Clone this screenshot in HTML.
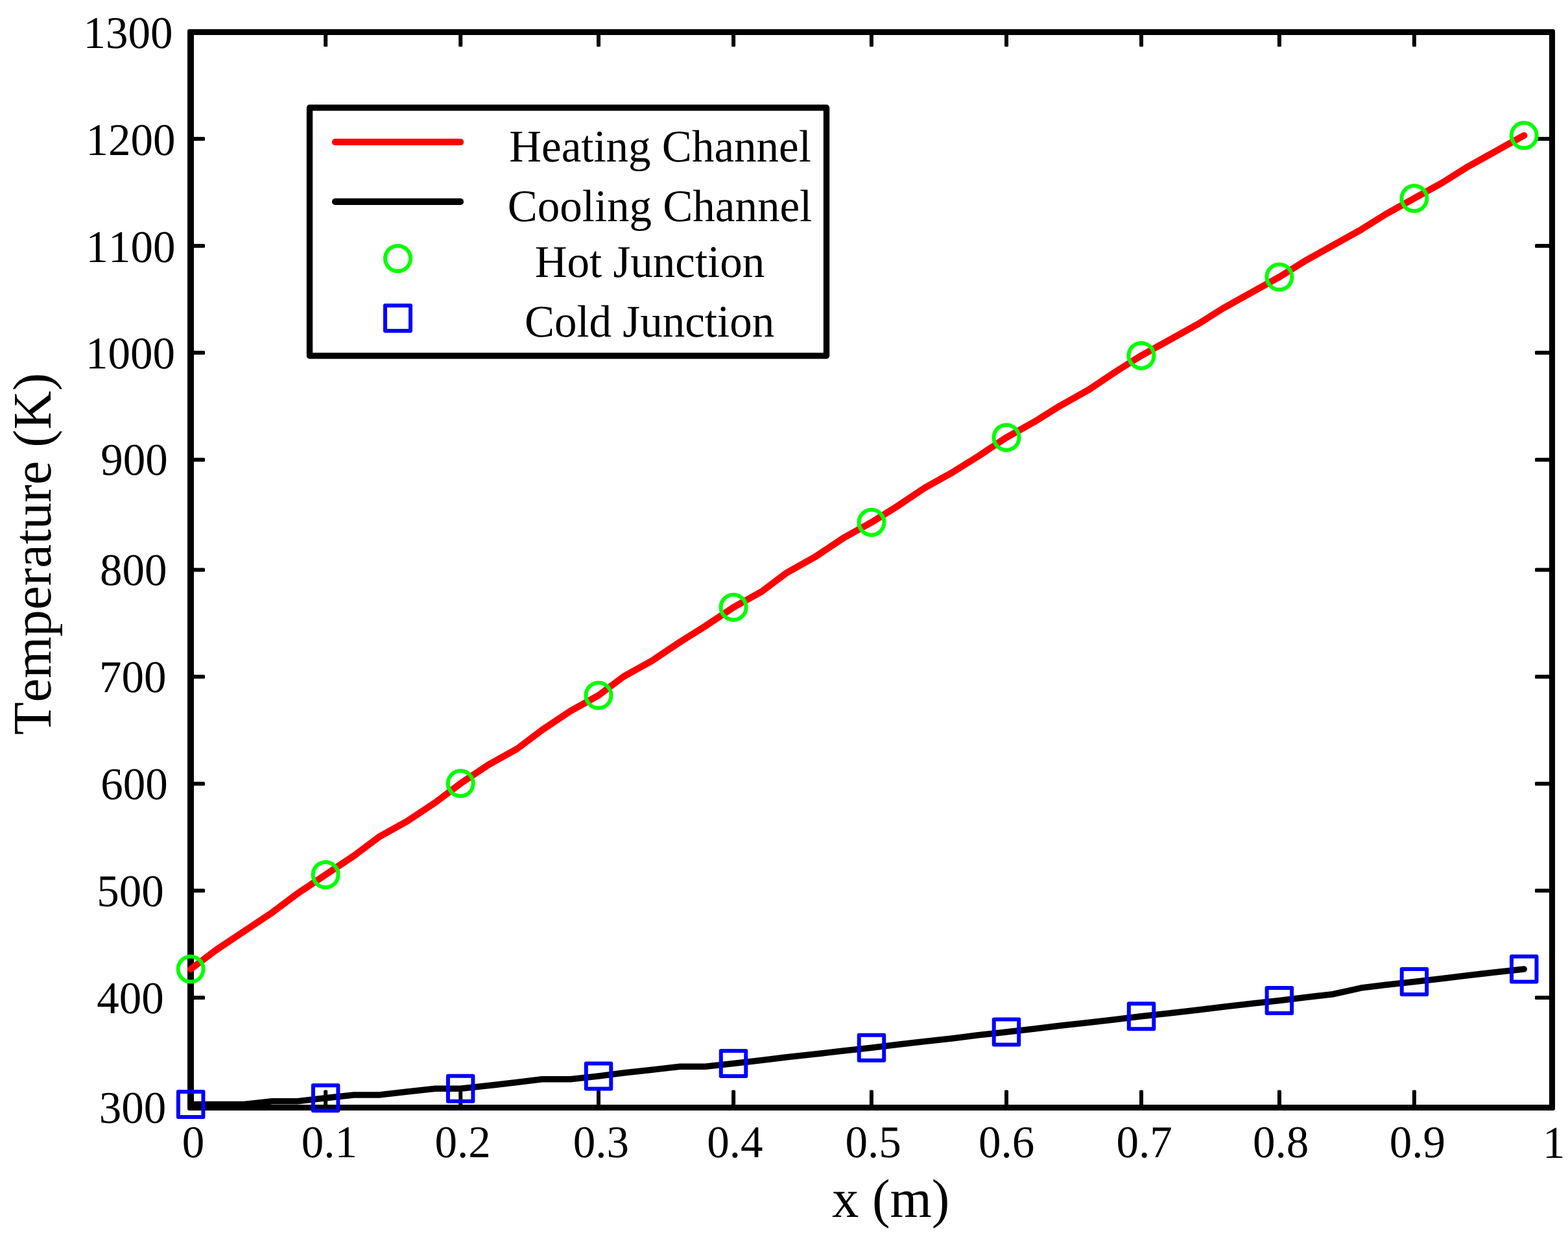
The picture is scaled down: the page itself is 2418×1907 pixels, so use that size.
<!DOCTYPE html>
<html lang="en"><head><meta charset="utf-8"><title>Temperature (K) vs x (m)</title>
<style>
html,body{margin:0;padding:0;background:#fff;}
body{width:2418px;height:1907px;overflow:hidden;}
svg{display:block;}
text{font-family:"Liberation Serif","DejaVu Serif",serif;fill:#000;font-kerning:none;font-variant-ligatures:none;text-rendering:geometricPrecision;}
.tk{font-size:69px;}
.lg{font-size:69px;}
.lb{font-size:82.7px;}
</style></head><body>
<svg width="2418" height="1907" viewBox="0 0 2418 1907">
<rect x="0" y="0" width="2418" height="1907" fill="#fff"/>
<g id="axes" fill="none" stroke="#000">
<path fill="#000" stroke="none" fill-rule="evenodd" d="M292 45 H2395 Q2398 45 2398 48 V1709 Q2398 1712 2395 1712 H292 Q289 1712 289 1709 V48 Q289 45 292 45 Z M299 54 V1703 H2389 V54 Z"/>
</g>
<g id="ticks" fill="#000">
<rect x="499.1" y="52" width="6" height="20" rx="1.5"/>
<rect x="499.1" y="1680.5" width="6" height="24" rx="1.5"/>
<rect x="707.2" y="52" width="6" height="20" rx="1.5"/>
<rect x="707.2" y="1680.5" width="6" height="24" rx="1.5"/>
<rect x="920.0" y="52" width="6" height="20" rx="1.5"/>
<rect x="920.0" y="1680.5" width="6" height="24" rx="1.5"/>
<rect x="1128.1" y="52" width="6" height="20" rx="1.5"/>
<rect x="1128.1" y="1680.5" width="6" height="24" rx="1.5"/>
<rect x="1340.9" y="52" width="6" height="20" rx="1.5"/>
<rect x="1340.9" y="1680.5" width="6" height="24" rx="1.5"/>
<rect x="1549.0" y="52" width="6" height="20" rx="1.5"/>
<rect x="1549.0" y="1680.5" width="6" height="24" rx="1.5"/>
<rect x="1757.0" y="52" width="6" height="20" rx="1.5"/>
<rect x="1757.0" y="1680.5" width="6" height="24" rx="1.5"/>
<rect x="1969.9" y="52" width="6" height="20" rx="1.5"/>
<rect x="1969.9" y="1680.5" width="6" height="24" rx="1.5"/>
<rect x="2177.9" y="52" width="6" height="20" rx="1.5"/>
<rect x="2177.9" y="1680.5" width="6" height="24" rx="1.5"/>
<rect x="296" y="211.0" width="20" height="6" rx="1.5"/>
<rect x="2367" y="211.0" width="24" height="6" rx="1.5"/>
<rect x="296" y="375.9" width="20" height="6" rx="1.5"/>
<rect x="2367" y="375.9" width="24" height="6" rx="1.5"/>
<rect x="296" y="540.8" width="20" height="6" rx="1.5"/>
<rect x="2367" y="540.8" width="24" height="6" rx="1.5"/>
<rect x="296" y="705.7" width="20" height="6" rx="1.5"/>
<rect x="2367" y="705.7" width="24" height="6" rx="1.5"/>
<rect x="296" y="875.4" width="20" height="6" rx="1.5"/>
<rect x="2367" y="875.4" width="24" height="6" rx="1.5"/>
<rect x="296" y="1040.3" width="20" height="6" rx="1.5"/>
<rect x="2367" y="1040.3" width="24" height="6" rx="1.5"/>
<rect x="296" y="1205.2" width="20" height="6" rx="1.5"/>
<rect x="2367" y="1205.2" width="24" height="6" rx="1.5"/>
<rect x="296" y="1370.1" width="20" height="6" rx="1.5"/>
<rect x="2367" y="1370.1" width="24" height="6" rx="1.5"/>
<rect x="296" y="1535.0" width="20" height="6" rx="1.5"/>
<rect x="2367" y="1535.0" width="24" height="6" rx="1.5"/>
</g>
<g id="lines" fill="none" stroke-linecap="round" stroke-linejoin="round">
<path id="heating" d="M294.1 1494.0 L332.8 1464.9 L376.3 1435.8 L419.9 1406.7 L458.6 1377.6 L502.1 1348.5 L545.7 1319.4 L584.4 1290.3 L627.9 1266.0 L671.5 1237.0 L710.2 1207.8 L753.7 1178.8 L797.3 1154.5 L836.0 1125.4 L879.5 1096.3 L923.0 1072.0 L961.7 1043.0 L1005.3 1018.7 L1048.8 989.6 L1087.5 965.4 L1131.1 936.2 L1174.6 912.0 L1213.3 882.9 L1256.9 858.6 L1300.4 829.6 L1343.9 805.3 L1382.7 781.1 L1426.2 752.0 L1469.7 727.7 L1508.4 703.5 L1552.0 674.4 L1595.5 650.1 L1634.2 625.9 L1677.8 601.6 L1721.3 572.5 L1760.0 548.2 L1803.6 524.0 L1847.1 499.8 L1885.8 475.5 L1929.3 451.2 L1972.9 427.0 L2011.6 402.8 L2055.1 378.5 L2098.7 354.2 L2137.4 330.0 L2180.9 305.8 L2224.5 281.5 L2263.2 257.2 L2306.7 233.0 L2350.2 208.8" stroke="#ff0000" stroke-width="10.3"/>
<path id="cooling" d="M294.1 1702.5 L332.8 1702.5 L376.3 1702.5 L419.9 1697.7 L458.6 1697.7 L502.1 1692.8 L545.7 1688.0 L584.4 1688.0 L627.9 1683.1 L671.5 1678.3 L710.2 1678.3 L753.7 1673.5 L797.3 1668.6 L836.0 1663.8 L879.5 1663.8 L923.0 1658.9 L961.7 1654.0 L1005.3 1649.2 L1048.8 1644.3 L1087.5 1644.3 L1131.1 1639.5 L1174.6 1634.6 L1213.3 1629.8 L1256.9 1625.0 L1300.4 1620.1 L1343.9 1615.2 L1382.7 1610.4 L1426.2 1605.5 L1469.7 1600.7 L1508.4 1595.8 L1552.0 1591.0 L1595.5 1586.1 L1634.2 1581.3 L1677.8 1576.5 L1721.3 1571.6 L1760.0 1566.8 L1803.6 1561.9 L1847.1 1557.0 L1885.8 1552.2 L1929.3 1547.3 L1972.9 1542.5 L2011.6 1537.7 L2055.1 1532.8 L2098.7 1523.1 L2137.4 1518.2 L2180.9 1513.4 L2224.5 1508.5 L2263.2 1503.7 L2306.7 1498.8 L2350.2 1494.0" stroke="#000000" stroke-width="9.6"/>
</g>
<g id="hot" fill="none" stroke="#00ff00" stroke-width="6">
<circle cx="294.1" cy="1494.0" r="19.5"/>
<circle cx="502.1" cy="1348.5" r="19.5"/>
<circle cx="710.2" cy="1207.8" r="19.5"/>
<circle cx="923.0" cy="1072.0" r="19.5"/>
<circle cx="1131.1" cy="936.2" r="19.5"/>
<circle cx="1343.9" cy="805.3" r="19.5"/>
<circle cx="1552.0" cy="674.4" r="19.5"/>
<circle cx="1760.0" cy="548.2" r="19.5"/>
<circle cx="1972.9" cy="427.0" r="19.5"/>
<circle cx="2180.9" cy="305.8" r="19.5"/>
<circle cx="2350.2" cy="208.8" r="19.5"/>
</g>
<g id="cold" fill="none" stroke="#0000ff" stroke-width="6" stroke-linejoin="round">
<rect x="274.9" y="1683.0" width="38.5" height="39"/>
<rect x="482.9" y="1673.3" width="38.5" height="39"/>
<rect x="690.9" y="1658.8" width="38.5" height="39"/>
<rect x="903.8" y="1639.4" width="38.5" height="39"/>
<rect x="1111.8" y="1620.0" width="38.5" height="39"/>
<rect x="1324.7" y="1595.8" width="38.5" height="39"/>
<rect x="1532.7" y="1571.5" width="38.5" height="39"/>
<rect x="1740.8" y="1547.2" width="38.5" height="39"/>
<rect x="1953.6" y="1523.0" width="38.5" height="39"/>
<rect x="2161.7" y="1493.9" width="38.5" height="39"/>
<rect x="2331.0" y="1474.5" width="38.5" height="39"/>
</g>
<g id="legend">
<rect x="477.5" y="166" width="797" height="382.5" fill="#fff" stroke="#000" stroke-width="9.4" stroke-linejoin="round"/>
<path d="M517 218.9 H710" stroke="#ff0000" stroke-width="10.4" stroke-linecap="round"/>
<path d="M517 310.9 H710" stroke="#000" stroke-width="10.2" stroke-linecap="round"/>
<circle cx="613.5" cy="398.5" r="19.5" fill="none" stroke="#00ff00" stroke-width="6"/>
<rect x="594" y="471" width="39" height="39" fill="none" stroke="#0000ff" stroke-width="6" stroke-linejoin="round"/>
</g>
<g id="labels" text-anchor="middle">
<text id="y1300" class="tk" transform="translate(197.40 73.50) scale(1 1.015)">1300</text>
<text id="y1200" class="tk" transform="translate(201.60 239.30) scale(1 1.015)">1200</text>
<text id="y1100" class="tk" transform="translate(201.60 403.90) scale(1 1.015)">1100</text>
<text id="y1000" class="tk" transform="translate(201.05 567.70) scale(1 1.015)">1000</text>
<text id="y900" class="tk" transform="translate(206.90 732.10) scale(1 1.015)">900</text>
<text id="y800" class="tk" transform="translate(205.70 902.10) scale(1 1.015)">800</text>
<text id="y700" class="tk" transform="translate(204.70 1067.30) scale(1 1.015)">700</text>
<text id="y600" class="tk" transform="translate(206.90 1231.70) scale(1 1.015)">600</text>
<text id="y500" class="tk" transform="translate(201.10 1397.30) scale(1 1.015)">500</text>
<text id="y400" class="tk" transform="translate(201.05 1561.90) scale(1 1.015)">400</text>
<text id="y300" class="tk" transform="translate(204.50 1730.90) scale(1 1.015)">300</text>
<text id="x0" class="tk" transform="translate(298.10 1784.10) scale(1 1.015)">0</text>
<text id="x0.1" class="tk" transform="translate(507.75 1784.10) scale(1 1.015)">0.1</text>
<text id="x0.2" class="tk" transform="translate(713.65 1784.10) scale(1 1.015)">0.2</text>
<text id="x0.3" class="tk" transform="translate(926.85 1784.10) scale(1 1.015)">0.3</text>
<text id="x0.4" class="tk" transform="translate(1133.25 1784.10) scale(1 1.015)">0.4</text>
<text id="x0.5" class="tk" transform="translate(1346.55 1784.10) scale(1 1.015)">0.5</text>
<text id="x0.6" class="tk" transform="translate(1552.20 1784.10) scale(1 1.015)">0.6</text>
<text id="x0.7" class="tk" transform="translate(1764.60 1784.10) scale(1 1.015)">0.7</text>
<text id="x0.8" class="tk" transform="translate(1975.20 1784.10) scale(1 1.015)">0.8</text>
<text id="x0.9" class="tk" transform="translate(2185.75 1784.10) scale(1 1.015)">0.9</text>
<text id="x1" class="tk" transform="translate(2396.20 1785.10) scale(1 1.015)">1</text>
<text id="lHeating_Channel" class="lg" transform="translate(1018.00 248.80) scale(1 1.015)">Heating Channel</text>
<text id="lCooling_Channel" class="lg" transform="translate(1017.50 340.60) scale(1 1.015)">Cooling Channel</text>
<text id="lHot_Junction" class="lg" transform="translate(1002.00 427.10) scale(1 1.015)">Hot Junction</text>
<text id="lCold_Junction" class="lg" transform="translate(1001.50 518.90) scale(1 1.015)">Cold Junction</text>
<text id="xlabel" class="lb" transform="translate(1373.70 1876.00) scale(1 1.015)">x (m)</text>
<text id="ylabel" class="lb" transform="translate(77.70 854.00) rotate(-90) scale(1 1.015)">Temperature (K)</text>
</g>
</svg></body></html>
